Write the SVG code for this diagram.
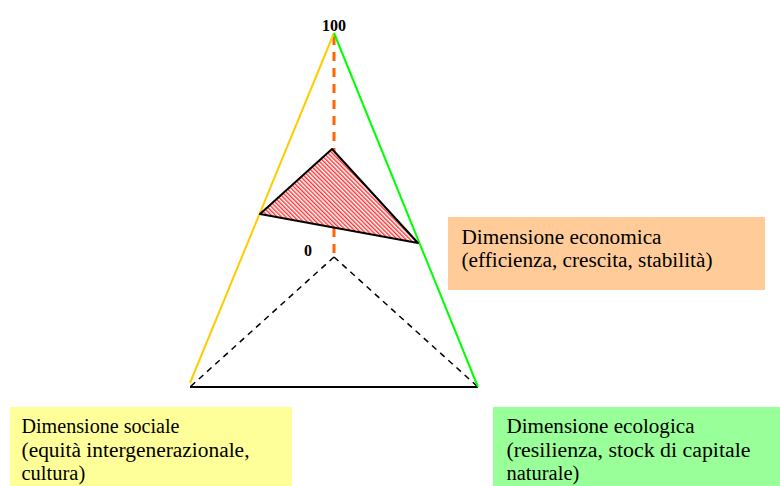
<svg xmlns="http://www.w3.org/2000/svg" width="780" height="486" viewBox="0 0 780 486">
<defs>
<pattern id="hatch" patternUnits="userSpaceOnUse" width="3" height="3" patternTransform="rotate(-45)">
<rect width="3" height="3" fill="#fff"/>
<rect width="1.4" height="3" fill="#ff3030"/>
</pattern>
</defs>
<rect width="780" height="486" fill="#fff"/>
<g id="connectors">
<line x1="334" y1="257" x2="190" y2="387" stroke="#000" stroke-width="1.5" stroke-dasharray="6,5"/>
<line x1="334" y1="257" x2="478" y2="387" stroke="#000" stroke-width="1.5" stroke-dasharray="6,5"/>
<line x1="190" y1="387" x2="478" y2="387" stroke="#000" stroke-width="2"/>
<line x1="334" y1="36" x2="334" y2="257" stroke="#ff6600" stroke-width="3" stroke-dasharray="9,7"/>
<line x1="334" y1="33" x2="190" y2="383" stroke="#ffcc00" stroke-width="2"/>
<line x1="334" y1="33" x2="478" y2="387" stroke="#00ff00" stroke-width="2"/>
</g>
<g id="inner-triangle">
<polygon points="332,149 260,214 418,243" fill="url(#hatch)" stroke="#000" stroke-width="2" stroke-linejoin="round"/>
</g>
<g font-family="Liberation Serif, Times New Roman, serif">
<g id="label-100"><text x="334" y="31" text-anchor="middle" font-size="16" font-weight="bold">100</text></g>
<g id="label-0"><text x="308" y="256" text-anchor="middle" font-size="16" font-weight="bold">0</text></g>
<g id="economica" font-size="20.5">
<rect x="448" y="217" width="317" height="73" fill="#ffcc99"/>
<text x="461.5" y="243.5" textLength="200" lengthAdjust="spacingAndGlyphs">Dimensione economica</text>
<text x="461.5" y="266.5" textLength="251" lengthAdjust="spacingAndGlyphs">(efficienza, crescita, stabilità)</text>
</g>
<g id="sociale" font-size="20.5">
<rect x="10" y="407" width="282" height="79" fill="#ffff99"/>
<text x="21.5" y="433" textLength="158" lengthAdjust="spacingAndGlyphs">Dimensione sociale</text>
<text x="21.5" y="456.5" textLength="228" lengthAdjust="spacingAndGlyphs">(equità intergenerazionale,</text>
<text x="21.5" y="479.5">cultura)</text>
</g>
<g id="ecologica" font-size="20.5">
<rect x="493" y="407" width="287" height="79" fill="#99ff99"/>
<text x="506.5" y="433" textLength="188" lengthAdjust="spacingAndGlyphs">Dimensione ecologica</text>
<text x="506.5" y="456.5" textLength="244" lengthAdjust="spacingAndGlyphs">(resilienza, stock di capitale</text>
<text x="506.5" y="479.5">naturale)</text>
</g>
</g>
</svg>
